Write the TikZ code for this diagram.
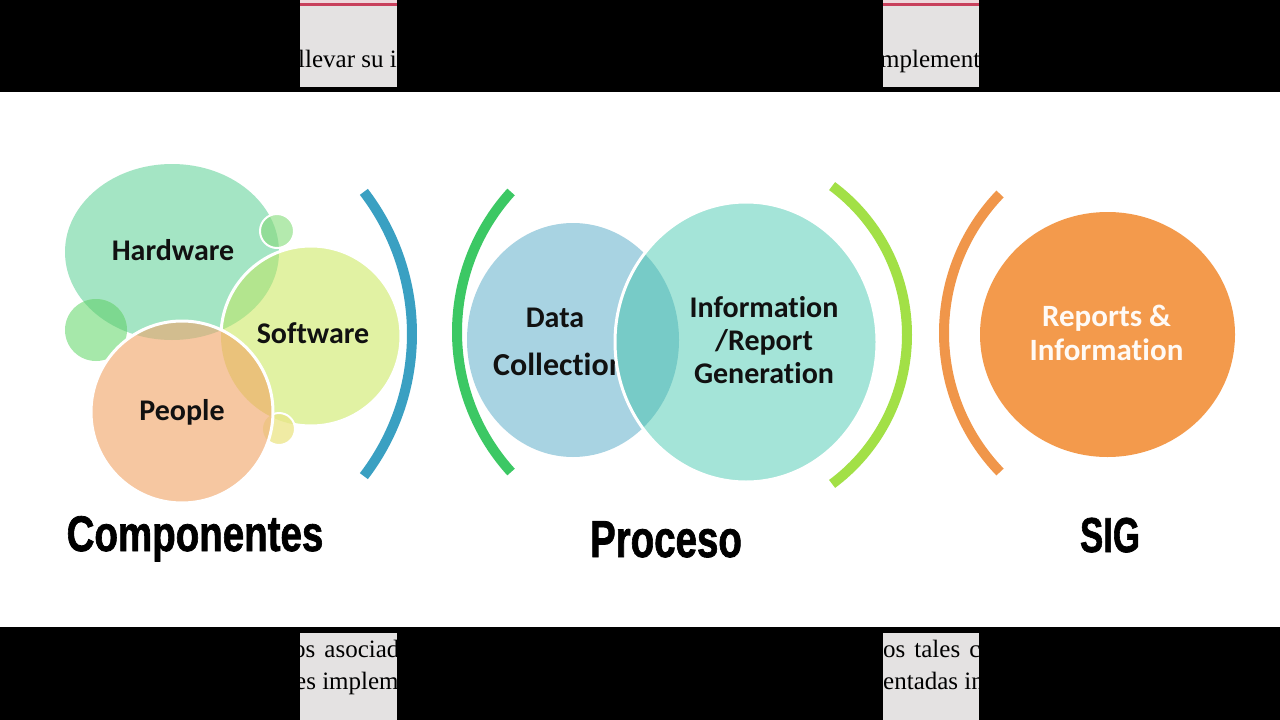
\documentclass[tikz,border=0pt]{standalone}
\usepackage{fontspec}
\usepackage{graphicx}
\newfontfamily\calfont[Ligatures={CommonOff,ContextualOff}]{Carlito}
\newfontfamily\serfont{Liberation Serif}
\newfontfamily\headfont[BoldFeatures={FakeBold=1.6}]{Liberation Sans}
\definecolor{hwc}{HTML}{A4E5C4}
\definecolor{swc}{HTML}{E1F2A3}
\definecolor{pec}{HTML}{F6C7A1}
\definecolor{hwsw}{HTML}{B3E58E}
\definecolor{hwpe}{HTML}{D2BD8F}
\definecolor{swpe}{HTML}{EAC27B}
\definecolor{allc}{HTML}{D4BA82}
\definecolor{slc}{HTML}{A6E8AA}
\definecolor{slhw}{HTML}{7DD890}
\definecolor{stc}{HTML}{B4EAAE}
\definecolor{sthw}{HTML}{92DD98}
\definecolor{sbc}{HTML}{F0EBA4}
\definecolor{sbpe}{HTML}{EFC487}
\definecolor{sbsw}{HTML}{E6E88E}
\definecolor{dcc}{HTML}{A8D3E2}
\definecolor{igc}{HTML}{A4E4D8}
\definecolor{ovc}{HTML}{77CBC7}
\definecolor{arcblue}{HTML}{3AA0C2}
\definecolor{arcgreen}{HTML}{3CC864}
\definecolor{arclime}{HTML}{A2E046}
\definecolor{arcorange}{HTML}{F0964A}
\definecolor{orangec}{HTML}{F39A4C}
\definecolor{stripgray}{HTML}{E4E2E2}
\definecolor{striptop}{HTML}{EED8DC}
\definecolor{stripred}{HTML}{C8405C}
\definecolor{inktext}{HTML}{111111}
\begin{document}
\begin{tikzpicture}[x=1pt,y=-1pt,
  bubbletext/.style={font=\calfont\bfseries\fontsize{30}{33}\selectfont, text=inktext, inner sep=0pt, align=center},
  reporttext/.style={font=\calfont\bfseries\fontsize{31}{34}\selectfont, text=white!96!orange, inner sep=0pt, align=center},
  headlbl/.style={font=\headfont\bfseries\fontsize{50}{50}\selectfont, text=black, inner sep=0pt, anchor=base},
  striptext/.style={font=\serfont\fontsize{25}{25}\selectfont, text=black, inner sep=0pt, anchor=base west},
  arcline/.style={line width=10pt},
  whiteborder/.style={draw=white, line width=3pt}]
\useasboundingbox (0,0) rectangle (1280,720);
% frame
\fill[black] (0,0) rectangle (1280,720);
\fill[white] (0,92) rectangle (1280,627);
% strips
\foreach \sx/\ex in {300/397, 883/979}{
  \fill[stripgray] (\sx,0) rectangle (\ex,87);
  \fill[striptop] (\sx,0) rectangle (\ex,3);
  \fill[stripred] (\sx,3) rectangle (\ex,6);
  \fill[stripgray] (\sx,633) rectangle (\ex,720);
}
\begin{scope}
  \clip (300,0) rectangle (397,87);
  \node[striptext] (tl) at (298,67) {llevar su i};
\end{scope}
\begin{scope}
  \clip (883,0) rectangle (979,87);
  \node[striptext] (tr) at (880,67) {mplementa};
\end{scope}
\begin{scope}
  \clip (300,633) rectangle (397,720);
  \node[striptext] (bl1) at (293,657) {os\hspace{9pt}asociad};
  \node[striptext] (bl2) at (295,689) {es implem};
\end{scope}
\begin{scope}
  \clip (883,633) rectangle (979,720);
  \node[striptext] (br1) at (883,657) {os\hspace{9pt}tales\hspace{9pt}c};
  \node[striptext] (br2) at (883,689) {entadas in.};
\end{scope}
% ---------- left group ----------
\def\HW{(172,252) ellipse [x radius=107, y radius=88]}
\def\SL{(96,330) circle [radius=31]}
\def\ST{(277,231) circle [radius=17]}
\def\SB{(279,429) circle [radius=16]}
\def\SW{(311,336) circle [radius=90]}
\def\PE{(182,412) circle [radius=91]}
\fill[hwc] \HW;
\fill[slc] \SL;
\begin{scope}\clip \HW; \fill[slhw] \SL; \end{scope}
\fill[stc] \ST;
\begin{scope}\clip \HW; \fill[sthw] \ST; \end{scope}
\draw[draw=white, line width=2pt] \ST;
\fill[swc] \SW;
\begin{scope}\clip \SW; \fill[hwsw] \HW; \end{scope}
\draw[whiteborder] \SW;
\fill[sbc] \SB;
\begin{scope}\clip \SW; \fill[sbsw] \SB; \end{scope}
\draw[draw=white, line width=2pt] \SB;
\fill[pec] \PE;
\begin{scope}\clip \PE; \fill[hwpe] \HW; \end{scope}
\begin{scope}\clip \PE; \fill[swpe] \SW; \end{scope}
\begin{scope}\clip \PE; \clip \SW; \fill[allc] \HW; \end{scope}
\begin{scope}\clip \PE; \fill[sbpe] \SB; \end{scope}
\draw[whiteborder] \PE;
\node[bubbletext] (hardware) at (173,250) {Hardware};
\node[bubbletext] (software) at (313,333) {Software};
\node[bubbletext] (people) at (182,412) {People};
\draw[arcline, arcblue] (178,334) ++(-37.4:234) arc[start angle=-37.4, end angle=37.4, radius=234];
% ---------- middle group ----------
\def\DC{(573,340) ellipse [x radius=106, y radius=117]}
\def\IG{(746,342) ellipse [x radius=131, y radius=140]}
\fill[dcc] \DC;
\node[bubbletext] (data) at (555,318) {Data};
\node[bubbletext, anchor=west, font=\calfont\bfseries\fontsize{32}{33}\selectfont] (collection) at (493,364) {Collection};
\fill[igc] \IG;
\begin{scope}\clip \IG; \fill[ovc] \DC; \end{scope}
\draw[whiteborder] \IG;
\node[bubbletext] (info) at (764,340) {Information\\/Report\\Generation};
\draw[arcline, arcgreen] (665.5,332) ++(137.8:208.5) arc[start angle=137.8, end angle=222.2, radius=208.5];
\draw[arcline, arclime] (721.5,335) ++(-53.4:185.5) arc[start angle=-53.4, end angle=53.4, radius=185.5];
% ---------- right group ----------
\fill[orangec] (1107.5,334.5) ellipse [x radius=127.5, y radius=122.5];
\node[reporttext] (reports) at (1106.5,333) {Reports \&\\Information};
\draw[arcline, arcorange] (1144.5,333) ++(136.1:200.5) arc[start angle=136.1, end angle=223.9, radius=200.5];
% ---------- labels ----------
\node[headlbl] (componentes) at (195,551) {\scalebox{0.77}[1]{Componentes}};
\node[headlbl, font=\headfont\bfseries\fontsize{52}{52}\selectfont] (proceso) at (666,557) {\scalebox{0.74}[1]{Proceso}};
\node[headlbl, font=\headfont\bfseries\fontsize{49}{49}\selectfont] (sig) at (1110,552) {\scalebox{0.71}[1]{SIG}};
\end{tikzpicture}
\end{document}
